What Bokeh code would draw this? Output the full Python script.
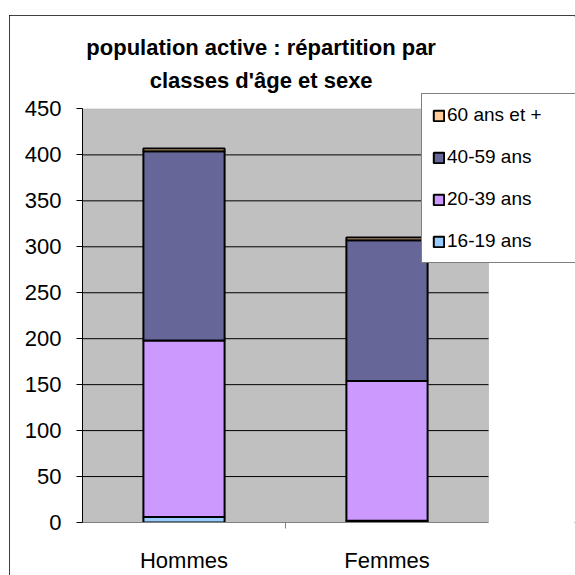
from bokeh.plotting import figure
from bokeh.models import Range1d, Legend, LegendItem, Label, SingleIntervalTicker, FixedTicker, BoxAnnotation
from bokeh.embed import file_html
from bokeh.resources import INLINE

categories = ["Hommes", "Femmes"]
groups = ["16-19 ans", "20-39 ans", "40-59 ans", "60 ans et +"]
v_16_19 = [6, 2]
v_20_39 = [192, 152]
v_40_59 = [206, 153]
v_60_plus = [3, 3]
colors = ["#99CCFF", "#CC99FF", "#666699", "#FFCC99"]
title_lines = ["population active : répartition par", "classes d'âge et sexe"]
y_max = 450
y_step = 50

xpos = [i + 0.5 for i in range(len(categories))]
data = {"x": xpos, "16-19 ans": v_16_19, "20-39 ans": v_20_39,
        "40-59 ans": v_40_59, "60 ans et +": v_60_plus}

n = len(categories)
p = figure(x_range=Range1d(0, 2.4286), y_range=Range1d(0, 550.6),
           width=566, height=560, output_backend="svg", toolbar_location=None,
           min_border_left=73, min_border_right=0, min_border_top=1, min_border_bottom=50)
p.margin = (15, 0, 0, 9)
p.styles = {"outline": "1px solid black", "outline-offset": "-1px"}
p.background_fill_color = "white"
p.border_fill_color = "white"
p.outline_line_color = None
p.grid.grid_line_color = None

# plot area (grey) limited to the category span
p.add_layout(BoxAnnotation(left=0, right=n, bottom=0, top=y_max, fill_color="#C0C0C0",
                           fill_alpha=1, line_color="#808080", line_width=1, level="underlay"))

# horizontal grid lines
grid_y = list(range(y_step, y_max, y_step))
p.segment(x0=[0] * len(grid_y), x1=[n] * len(grid_y), y0=grid_y, y1=grid_y,
          line_color="black", line_width=1)

renderers = p.vbar_stack(groups, x="x", width=0.4, source=data, color=colors,
                         line_color="black", line_width=2)

# y axis
p.yaxis.bounds = (0, y_max)
p.yaxis.ticker = SingleIntervalTicker(interval=y_step)
p.yaxis.axis_line_color = "black"
p.yaxis.major_tick_line_color = "black"
p.yaxis.major_tick_out = 6
p.yaxis.major_tick_in = 0
p.yaxis.minor_tick_line_color = None
p.yaxis.major_label_text_font = "Liberation Sans"
p.yaxis.major_label_text_font_size = "22px"
p.yaxis.major_label_text_color = "black"
p.yaxis.major_label_standoff = 15

# x axis
p.xaxis.bounds = (0, n)
p.xaxis.ticker = FixedTicker(ticks=xpos, minor_ticks=[1])
p.xaxis.major_label_overrides = {x: c for x, c in zip(xpos, categories)}
p.xaxis.axis_line_color = "#808080"
p.xaxis.major_tick_line_color = None
p.xaxis.major_tick_out = 0
p.xaxis.minor_tick_line_color = "#808080"
p.xaxis.minor_tick_out = 6
p.xaxis.minor_tick_in = 0
p.xaxis.major_label_text_font = "Liberation Sans"
p.xaxis.major_label_text_font_size = "22px"
p.xaxis.major_label_text_color = "black"
p.xaxis.major_label_standoff = 19

# title as two lines
for t, yy in zip(title_lines, [517, 481]):
    p.add_layout(Label(x=0.88, y=yy, text=t, text_align="center", text_baseline="middle",
                       text_font="Liberation Sans", text_font_style="bold",
                       text_font_size="22px", text_color="black"))

items = [LegendItem(label=g, renderers=[r]) for g, r in zip(groups, renderers)][::-1]
legend = Legend(items=items, location=(339, 259), margin=0, padding=10, spacing=20,
                glyph_width=13, glyph_height=13, label_height=16, label_width=140,
                label_standoff=2, label_text_font="Liberation Sans",
                label_text_font_size="19px", label_text_color="black",
                border_line_color="black",
                border_line_width=1, background_fill_color="white", background_fill_alpha=1)
p.add_layout(legend, "center")

open("out.html", "w").write(file_html(p, INLINE))
